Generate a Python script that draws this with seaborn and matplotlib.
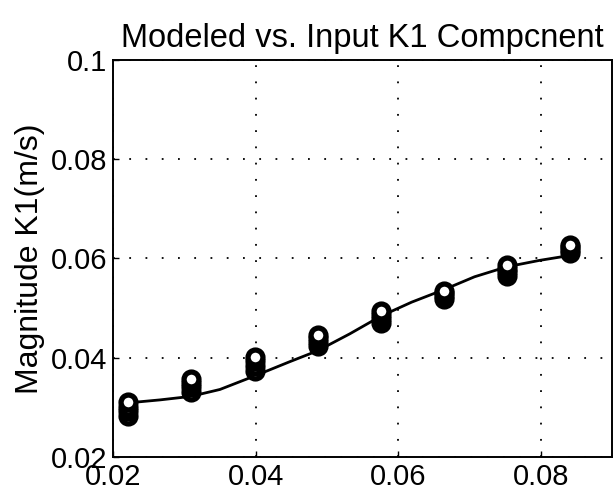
import numpy as np
import pandas as pd
import matplotlib
matplotlib.use('Agg')
import matplotlib.pyplot as plt
import seaborn as sns

# measured input points (several repeats stacked at each x)
INPUT_X = [0.0221, 0.0309, 0.0399, 0.0487, 0.0576, 0.0664, 0.0752, 0.0841]
INPUT_Y = [
    [0.0283, 0.0292, 0.0301, 0.0311],
    [0.0330, 0.0340, 0.0350, 0.0357],
    [0.0374, 0.0383, 0.0393, 0.0402],
    [0.0423, 0.0431, 0.0440, 0.0446],
    [0.0470, 0.0478, 0.0487, 0.0494],
    [0.0518, 0.0524, 0.0530, 0.0535],
    [0.0565, 0.0572, 0.0579, 0.0586],
    [0.0610, 0.0616, 0.0622, 0.0628],
]

# modeled curve
MODEL_X = [0.0221, 0.0266, 0.0309, 0.0350, 0.0400, 0.0448, 0.0487, 0.0532,
           0.0576, 0.0619, 0.0664, 0.0707, 0.0752, 0.0798, 0.0841]
MODEL_Y = [0.0309, 0.0315, 0.0322, 0.0336, 0.0364, 0.0392, 0.0414, 0.0448,
           0.0484, 0.0512, 0.0537, 0.0563, 0.0583, 0.0596, 0.0606]

X_TICKS = [0.02, 0.04, 0.06, 0.08]
X_LABELS = ['0.02', '0.04', '0.06', '0.08']
Y_TICKS = [0.02, 0.04, 0.06, 0.08, 0.1]
Y_LABELS = ['0.02', '0.04', '0.06', '0.08', '0.1']

sns.set_style('ticks')
plt.rcParams['font.family'] = ['Liberation Sans', 'DejaVu Sans']
plt.rcParams['text.color'] = 'black'
plt.rcParams['axes.labelcolor'] = 'black'

pts = pd.DataFrame(
    [(x, y) for x, ys in zip(INPUT_X, INPUT_Y) for y in ys],
    columns=['k', 'mag'],
)
model = pd.DataFrame({'k': MODEL_X, 'mag': MODEL_Y})

fig = plt.figure(figsize=(6.14, 5.03), dpi=100)
ax = fig.add_axes([0.184, 0.0915, 0.813, 0.7895])

sns.lineplot(data=model, x='k', y='mag', color='black', linewidth=2.0,
             ax=ax, zorder=2)
sns.scatterplot(data=pts, x='k', y='mag', marker='o', s=115,
                facecolor='white', edgecolor='black', linewidth=3.8,
                ax=ax, zorder=3)

ax.set_xlim(0.02, 0.09)
ax.set_ylim(0.02, 0.1)
ax.set_xticks(X_TICKS)
ax.set_xticklabels(X_LABELS)
ax.set_yticks(Y_TICKS)
ax.set_yticklabels(Y_LABELS)
ax.tick_params(direction='in', length=4, width=1, labelsize=21, pad=4,
               colors='black')
ax.grid(True, color='black', linestyle=(0, (1, 8)), linewidth=1.3)
for s in ax.spines.values():
    s.set_visible(True)
    s.set_color('black')
    s.set_linewidth(1.4)

ax.set_xlabel('')
ax.set_ylabel('Magnitude K1(m/s)', fontsize=23, labelpad=4)
ax.set_title('Modeled vs. Input K1 Compcnent', fontsize=23.5, pad=9)

plt.savefig('out.png', dpi=100)
plt.close()
